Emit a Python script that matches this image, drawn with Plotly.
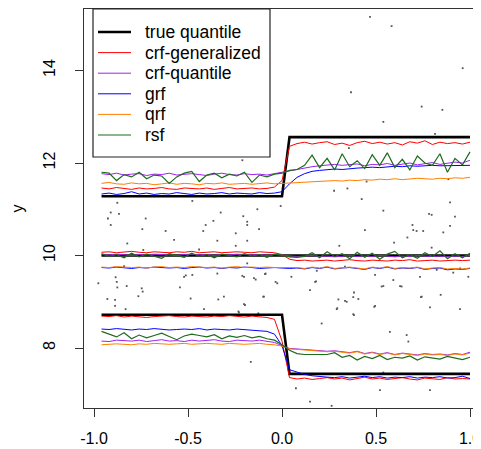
import numpy as np
import plotly.graph_objects as go

# test grid (x <= 0 : first 25 points, x > 0 : last 25 points)
x_grid = [round(-0.96 + 0.04 * i, 2) for i in range(50)]

# true quantiles (0.1, 0.5, 0.9)
true_q10 = [8.72] * 25 + [7.44] * 25
true_q50 = [10.0] * 50
true_q90 = [11.28] * 25 + [12.56] * 25

# crf-generalized
crfg_q10 = [8.69,8.68,8.70,8.67,8.69,8.68,8.66,8.68,8.69,8.70,8.68,8.67,8.69,8.68,8.67,8.69,8.68,8.70,8.68,8.67,8.69,8.68,8.66,8.62,8.15,
            7.36,7.33,7.35,7.32,7.34,7.36,7.33,7.35,7.31,7.34,7.37,7.33,7.35,7.32,7.34,7.36,7.33,7.31,7.35,7.34,7.32,7.36,7.33,7.34,7.33]
crfg_q50 = [10.07,10.08,10.06,10.07,10.09,10.07,10.06,10.08,10.07,10.06,10.08,10.07,10.09,10.06,10.07,10.08,10.06,10.07,10.08,10.07,10.06,10.08,10.07,10.06,10.02,
            9.92,9.89,9.90,9.88,9.89,9.90,9.88,9.89,9.91,9.89,9.88,9.90,9.89,9.88,9.90,9.89,9.91,9.88,9.89,9.90,9.88,9.89,9.90,9.89,9.90]
crfg_q90 = [11.46,11.44,11.47,11.45,11.43,11.46,11.44,11.45,11.47,11.44,11.43,11.46,11.45,11.44,11.46,11.43,11.45,11.47,11.44,11.45,11.46,11.44,11.45,11.48,11.62,
            12.36,12.42,12.45,12.41,12.44,12.46,12.40,12.43,12.38,12.44,12.47,12.42,12.45,12.41,12.44,12.39,12.46,12.43,12.48,12.40,12.45,12.42,12.44,12.41,12.45]

# crf-quantile
crfq_q10 = [8.15,8.14,8.17,8.16,8.15,8.17,8.14,8.16,8.18,8.15,8.16,8.14,8.17,8.15,8.16,8.18,8.15,8.14,8.17,8.16,8.15,8.17,8.14,8.12,8.05,
            7.99,7.98,7.97,7.96,7.95,7.93,7.94,7.92,7.90,7.93,7.88,7.91,7.87,7.90,7.86,7.89,7.87,7.85,7.88,7.86,7.87,7.85,7.88,7.86,7.91]
crfq_q50 = [10.02,10.01,10.03,10.02,10.00,10.02,10.01,10.03,10.02,10.01,10.00,10.02,10.03,10.01,10.02,10.00,10.02,10.01,10.03,10.02,10.01,10.02,10.00,10.02,10.01,
            9.99,9.98,9.99,10.00,9.98,9.99,9.97,9.99,10.00,9.98,9.99,9.98,10.00,9.99,9.97,9.99,9.98,10.00,9.99,9.98,9.99,9.97,9.99,9.98,10.00]
crfq_q90 = [11.77,11.75,11.78,11.74,11.76,11.77,11.73,11.76,11.75,11.78,11.74,11.76,11.77,11.75,11.73,11.76,11.78,11.75,11.74,11.77,11.75,11.76,11.74,11.77,11.80,
            11.84,11.87,11.90,11.92,11.94,11.95,11.97,11.95,11.96,11.98,11.94,11.97,11.96,11.99,11.95,11.97,12.00,11.96,11.98,12.01,11.97,11.99,12.02,12.00,12.06]

# grf
grf_q10 = [8.41,8.40,8.42,8.40,8.39,8.41,8.40,8.42,8.41,8.39,8.40,8.41,8.40,8.42,8.39,8.41,8.40,8.39,8.41,8.40,8.39,8.38,8.36,8.30,8.05,
           7.53,7.48,7.43,7.40,7.38,7.37,7.36,7.38,7.35,7.37,7.39,7.36,7.38,7.35,7.37,7.36,7.38,7.35,7.37,7.36,7.38,7.35,7.36,7.39,7.34]
grf_q50 = [9.74,9.73,9.75,9.74,9.72,9.74,9.73,9.75,9.74,9.73,9.74,9.72,9.74,9.75,9.73,9.74,9.72,9.74,9.73,9.75,9.74,9.72,9.73,9.74,9.73,
           9.72,9.73,9.71,9.74,9.72,9.75,9.71,9.73,9.74,9.72,9.70,9.74,9.72,9.75,9.71,9.73,9.72,9.74,9.70,9.72,9.73,9.69,9.71,9.70,9.72]
grf_q90 = [11.33,11.35,11.32,11.34,11.38,11.33,11.35,11.32,11.34,11.33,11.36,11.34,11.32,11.35,11.33,11.34,11.36,11.33,11.35,11.34,11.33,11.36,11.34,11.35,11.38,
           11.55,11.69,11.77,11.82,11.84,11.85,11.87,11.86,11.88,11.89,11.90,11.91,11.90,11.92,11.93,11.92,11.94,11.93,11.94,11.95,11.94,11.94,11.95,11.94,11.95]

# qrf
qrf_q10 = [8.07,8.08,8.09,8.08,8.07,8.09,8.08,8.10,8.09,8.08,8.09,8.10,8.08,8.09,8.10,8.09,8.08,8.10,8.09,8.08,8.09,8.10,8.08,8.07,8.04,
           7.98,7.97,7.96,7.95,7.94,7.92,7.93,7.91,7.89,7.92,7.87,7.90,7.86,7.89,7.85,7.88,7.86,7.84,7.87,7.85,7.86,7.84,7.87,7.85,7.89]
qrf_q50 = [9.75,9.74,9.76,9.75,9.74,9.75,9.73,9.75,9.76,9.74,9.75,9.74,9.76,9.75,9.74,9.75,9.73,9.75,9.76,9.74,9.75,9.74,9.75,9.74,9.74,
           9.73,9.74,9.72,9.75,9.73,9.76,9.72,9.74,9.75,9.73,9.71,9.75,9.73,9.76,9.72,9.74,9.73,9.75,9.71,9.73,9.74,9.71,9.72,9.71,9.73]
qrf_q90 = [11.56,11.58,11.55,11.54,11.57,11.55,11.56,11.53,11.55,11.57,11.54,11.56,11.55,11.53,11.56,11.55,11.57,11.54,11.55,11.56,11.54,11.55,11.57,11.55,11.56,
           11.57,11.58,11.59,11.60,11.60,11.61,11.62,11.61,11.63,11.62,11.64,11.63,11.65,11.64,11.66,11.64,11.65,11.67,11.66,11.65,11.67,11.66,11.68,11.67,11.69]

# rsf
rsf_q10 = [8.36,8.30,8.24,8.33,8.20,8.28,8.22,8.27,8.32,8.25,8.18,8.26,8.30,8.27,8.24,8.29,8.20,8.26,8.23,8.27,8.22,8.25,8.20,8.17,8.07,
           7.95,7.88,7.86,7.86,7.85,7.86,7.90,7.80,7.84,7.74,7.82,7.77,7.84,7.75,7.80,7.78,7.83,7.74,7.81,7.78,7.76,7.82,7.79,7.75,7.80]
rsf_q50 = [10.04,9.98,10.02,9.95,10.05,9.97,10.03,9.99,9.94,10.04,10.00,9.96,10.05,9.98,10.02,9.95,10.03,10.00,9.97,10.04,9.99,10.02,9.96,10.03,10.01,
           9.97,9.96,9.98,10.06,9.95,10.08,9.98,10.04,9.93,10.07,9.96,10.05,9.92,10.03,10.09,9.95,10.02,9.94,10.06,9.98,10.10,9.93,10.04,9.95,10.05]
rsf_q90 = [11.80,11.78,11.62,11.75,11.70,11.80,11.66,11.74,11.72,11.56,11.70,11.78,11.82,11.60,11.74,11.78,11.68,11.76,11.72,11.80,11.58,11.74,11.70,11.76,11.78,
           11.84,11.86,11.95,12.17,11.90,12.10,11.85,12.20,11.92,12.05,11.88,12.18,11.95,12.22,11.90,12.08,11.85,12.15,12.00,11.95,12.20,11.80,12.10,11.96,12.24]

# observed data points
pts_x = [-0.211,-0.876,-0.477,-0.131,-0.911,-0.867,-0.326,-0.206,-0.725,-0.926,-0.365,-0.185,-0.911,-0.406,-0.185,
         -0.743,-0.619,-0.419,-0.122,-0.246,-0.344,-0.823,-0.185,-0.574,-0.441,-0.738,-0.246,-0.840,-0.185,-0.885,
         -0.521,-0.202,-0.140,-0.477,0.468,0.583,0.961,0.367,0.743,0.853,0.539,0.814,0.356,0.450,0.885,0.277,0.348,
         0.424,0.894,-0.007,0.539,0.796,0.920,0.782,0.441,0.698,0.716,0.751,0.894,0.694,0.858,0.667,0.305,0.796,0.596,
         -0.090,0.050,0.335,0.495,0.734,0.823,0.991,0.185,0.592,0.911,0.947,0.636,0.530,0.181,0.149,0.383,0.406,0.335,
         0.300,0.739,0.844,0.491,0.787,0.947,0.294,0.383,-0.977,-0.879,-0.826,-0.746,-0.543,-0.764,-0.741,-0.888,-0.929,
         -0.888,-0.486,-0.339,-0.197,-0.100,-0.232,-0.126,-0.025,0.176,0.344,0.379,0.291,0.495,0.379,0.539,0.628,0.743,
         0.211,0.574,0.663,0.672,0.539,-0.166,0.074,0.521,0.787,0.149,0.264,-0.876,-0.832,-0.512,-0.344,-0.211,-0.149,
         -0.087,-0.309,-0.202,-0.096,-0.415,-0.229,-0.034]
pts_y = [12.06,11.14,11.18,11.00,10.93,10.90,10.93,10.85,10.80,10.80,10.75,10.73,10.66,10.66,10.66,
         10.57,10.53,10.53,10.57,10.48,10.32,10.26,10.32,10.34,10.13,10.12,10.21,9.77,9.83,9.53,
         9.54,9.54,9.48,9.58,15.16,14.96,14.05,13.53,13.22,13.15,12.89,12.63,12.32,11.60,11.65,11.40,11.45,
         11.22,11.15,11.07,10.97,10.88,10.84,10.90,10.55,10.55,10.53,10.53,10.64,10.66,10.50,10.39,10.21,10.17,10.28,
         9.60,9.54,9.76,9.58,9.54,9.69,9.54,9.67,9.47,9.63,9.72,9.33,9.33,9.44,9.25,9.20,9.06,9.02,
         9.05,9.10,9.15,8.89,8.88,8.84,8.86,8.71,9.40,9.43,9.34,9.29,9.31,9.12,9.22,9.04,9.06,
         8.91,9.07,9.05,8.93,9.11,8.79,8.75,9.40,9.43,9.00,9.10,8.84,8.91,8.73,9.34,9.34,9.11,
         8.53,8.35,8.28,8.14,7.47,7.70,7.13,7.09,7.09,6.84,6.75,9.31,8.84,9.57,9.61,9.56,9.51,
         9.61,9.11,8.95,9.11,8.84,8.77,9.43]

methods = ["true quantile", "crf-generalized", "crf-quantile", "grf", "qrf", "rsf"]
series = {
    "true quantile": (true_q10, true_q50, true_q90),
    "crf-generalized": (crfg_q10, crfg_q50, crfg_q90),
    "crf-quantile": (crfq_q10, crfq_q50, crfq_q90),
    "grf": (grf_q10, grf_q50, grf_q90),
    "qrf": (qrf_q10, qrf_q50, qrf_q90),
    "rsf": (rsf_q10, rsf_q50, rsf_q90),
}
colors = {"true quantile": "#000000", "crf-generalized": "#FF0000", "crf-quantile": "#A020F0",
          "grf": "#0000FF", "qrf": "#FF7F00", "rsf": "#1E6B1E"}
widths = {"true quantile": 2.6, "crf-generalized": 1, "crf-quantile": 1, "grf": 1, "qrf": 1, "rsf": 1.2}

# the page body has an 8px default margin: size the figure to the visible window
OFF = 8
WIN_W, WIN_H = 481, 449
W, H = WIN_W - OFF, WIN_H - OFF
# plot area in window pixels: x 84..481, y 9..408
ML, MR, MT, MB = 84 - OFF, 0, 9 - OFF, WIN_H - 408
PW, PH = W - ML - MR, H - MT - MB


def px2paper(px, py):
    # window pixel -> paper coordinates
    return (px - OFF - ML) / PW, (H - MB - (py - OFF)) / PH


fig = go.Figure()
fig.add_trace(go.Scatter(x=pts_x, y=pts_y, mode="markers", showlegend=False,
                         marker=dict(size=1.8, color="#555555", symbol="square", line=dict(width=0))))

for m in methods:
    xs, ys = [], []
    for s in series[m]:
        xs += x_grid + [None]
        ys += list(s) + [None]
    fig.add_trace(go.Scatter(x=xs, y=ys, mode="lines", name=m, showlegend=False,
                             line=dict(color=colors[m], width=widths[m])))

# legend drawn as box + line samples + text (R-style legend)
shapes, annos = [], []
bx0, by0 = px2paper(93, 157)
bx1, by1 = px2paper(270, 9)
shapes.append(dict(type="rect", xref="paper", yref="paper", x0=bx0, y0=by0, x1=bx1, y1=by1,
                   line=dict(color="#222222", width=1.2), fillcolor="white", layer="above"))
for i, m in enumerate(methods):
    rowy = 32 + 20.6 * i
    lx0, ly = px2paper(98, rowy)
    lx1, _ = px2paper(131, rowy)
    shapes.append(dict(type="line", xref="paper", yref="paper", x0=lx0, x1=lx1, y0=ly, y1=ly,
                       line=dict(color=colors[m], width=widths[m]), layer="above"))
    tx, _ = px2paper(143, rowy)
    annos.append(dict(xref="paper", yref="paper", x=tx, y=ly, text=m, showarrow=False,
                      xanchor="left", yanchor="middle", font=dict(size=17.5)))

font = "Liberation Sans, Arial, Helvetica, sans-serif"
fig.update_layout(
    width=W, height=H,
    margin=dict(l=ML, r=MR, t=MT, b=MB),
    paper_bgcolor="white", plot_bgcolor="white",
    font=dict(family=font, size=16, color="black"),
    showlegend=False,
    shapes=shapes, annotations=annos,
    xaxis=dict(range=[-1.0532, 1.0585], tickvals=[-1.0, -0.5, 0.0, 0.5, 1.0],
               ticktext=["-1.0", "-0.5", "0.0", "0.5", "1.0"], automargin=False,
               ticklabeloverflow="allow",
               showgrid=False, zeroline=False, showline=True, linecolor="#333333", linewidth=1,
               mirror=True, ticks="outside", ticklen=8, tickcolor="#333333",
               tickfont=dict(size=16), ticklabelstandoff=8),
    yaxis=dict(range=[6.703, 15.33], tickvals=[8, 10, 12, 14], automargin=False,
               ticklabeloverflow="allow",
               showgrid=False, zeroline=False, showline=True, linecolor="#333333", linewidth=1,
               ticks="outside", ticklen=8, tickcolor="#333333", tickangle=-90,
               tickfont=dict(size=16), ticklabelstandoff=14,
               title=dict(text="y", font=dict(size=16), standoff=12)),
)

fig.write_html("out.html")
